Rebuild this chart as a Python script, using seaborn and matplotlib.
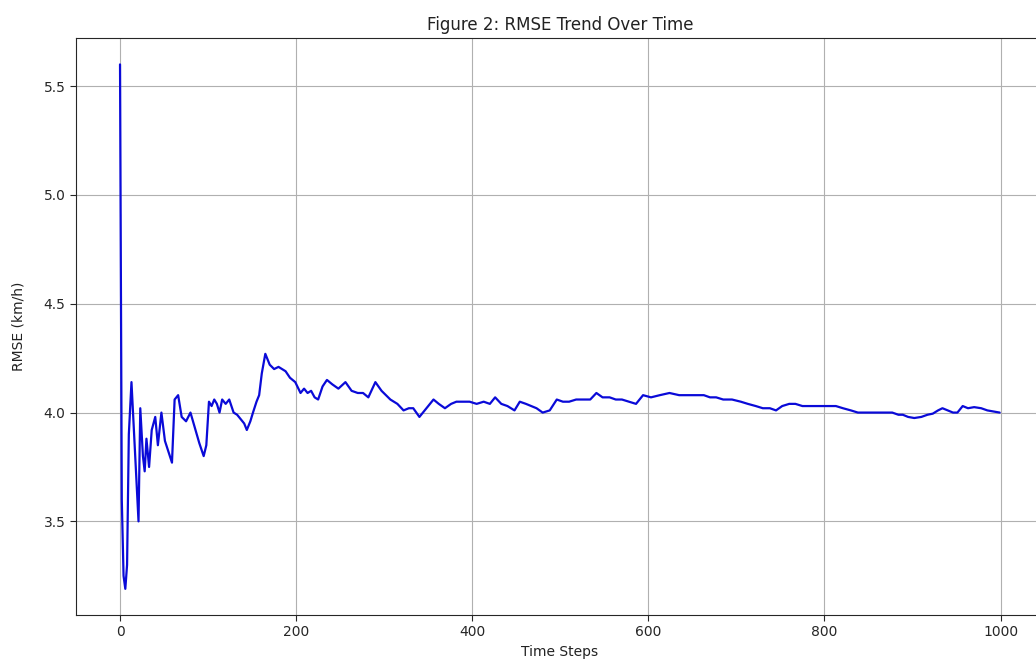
import matplotlib
matplotlib.use("Agg")
import matplotlib.pyplot as plt
import seaborn as sns
import pandas as pd

# Running RMSE per time step
time_steps = [0, 2, 4, 6, 8, 10, 13, 16, 21, 23, 26, 28, 30, 33, 36, 40, 43, 47, 51, 55,
              59, 62, 66, 70, 75, 80, 85, 90, 95, 98, 101, 104, 107, 110, 113, 116, 120, 124, 129, 133,
              137, 141, 144, 148, 151, 155, 158, 161, 165, 170, 175, 180, 184, 188, 193, 199, 205, 209, 213, 217,
              221, 225, 230, 235, 241, 248, 256, 263, 270, 276, 282, 290, 297, 307, 315, 322, 328, 333, 340, 348,
              356, 362, 369, 376, 382, 390, 397, 405, 413, 420, 426, 433, 440, 448, 454, 461, 467, 473, 480, 488,
              496, 503, 510, 518, 526, 534, 541, 548, 556, 563, 570, 578, 586, 594, 603, 613, 624, 635, 645, 655,
              663, 670, 677, 685, 695, 705, 713, 722, 730, 738, 745, 752, 760, 767, 775, 784, 793, 803, 813, 821,
              830, 838, 847, 855, 863, 870, 877, 884, 889, 895, 902, 910, 917, 923, 929, 934, 940, 946, 951, 957,
              963, 970, 978, 985, 992, 999]
rmse = [5.60, 3.60, 3.25, 3.19, 3.30, 3.90, 4.14, 3.90, 3.50, 4.02, 3.80, 3.73, 3.88, 3.75, 3.92, 3.98, 3.85, 4.00, 3.87, 3.82,
        3.77, 4.06, 4.08, 3.98, 3.96, 4.00, 3.93, 3.86, 3.80, 3.85, 4.05, 4.03, 4.06, 4.04, 4.00, 4.06, 4.04, 4.06, 4.00, 3.99,
        3.97, 3.95, 3.92, 3.96, 4.00, 4.05, 4.08, 4.18, 4.27, 4.22, 4.20, 4.21, 4.20, 4.19, 4.16, 4.14, 4.09, 4.11, 4.09, 4.10,
        4.07, 4.06, 4.12, 4.15, 4.13, 4.11, 4.14, 4.10, 4.09, 4.09, 4.07, 4.14, 4.10, 4.06, 4.04, 4.01, 4.02, 4.02, 3.98, 4.02,
        4.06, 4.04, 4.02, 4.04, 4.05, 4.05, 4.05, 4.04, 4.05, 4.04, 4.07, 4.04, 4.03, 4.01, 4.05, 4.04, 4.03, 4.02, 4.00, 4.01,
        4.06, 4.05, 4.05, 4.06, 4.06, 4.06, 4.09, 4.07, 4.07, 4.06, 4.06, 4.05, 4.04, 4.08, 4.07, 4.08, 4.09, 4.08, 4.08, 4.08,
        4.08, 4.07, 4.07, 4.06, 4.06, 4.05, 4.04, 4.03, 4.02, 4.02, 4.01, 4.03, 4.04, 4.04, 4.03, 4.03, 4.03, 4.03, 4.03, 4.02,
        4.01, 4.00, 4.00, 4.00, 4.00, 4.00, 4.00, 3.99, 3.99, 3.98, 3.975, 3.98, 3.99, 3.995, 4.01, 4.02, 4.01, 4.00, 4.00, 4.03,
        4.02, 4.025, 4.02, 4.01, 4.005, 4.00]

df = pd.DataFrame({"Time Steps": time_steps, "RMSE (km/h)": rmse})

sns.set_style("ticks")
plt.rcParams["font.family"] = ["DejaVu Sans"]
plt.rcParams["text.color"] = "#222222"
plt.rcParams["axes.labelcolor"] = "#222222"

fig = plt.figure(figsize=(10.36, 6.70), dpi=100)
ax = fig.add_axes([0.0734, 0.082, 0.934, 0.861])

sns.lineplot(data=df, x="Time Steps", y="RMSE (km/h)", color="#0a0ad8", linewidth=1.6, ax=ax)

ax.set_xticks([0, 200, 400, 600, 800, 1000])
ax.set_yticks([3.5, 4.0, 4.5, 5.0, 5.5])
ax.grid(True, color="#b0b0b0", linewidth=0.8)
ax.set_title("Figure 2: RMSE Trend Over Time", fontsize=12)
ax.set_xlabel("Time Steps", fontsize=10)
ax.set_ylabel("RMSE (km/h)", fontsize=10)
ax.yaxis.set_label_coords(-0.052, 0.5)
ax.tick_params(labelsize=10, length=4)

fig.savefig("out.png", dpi=100)
